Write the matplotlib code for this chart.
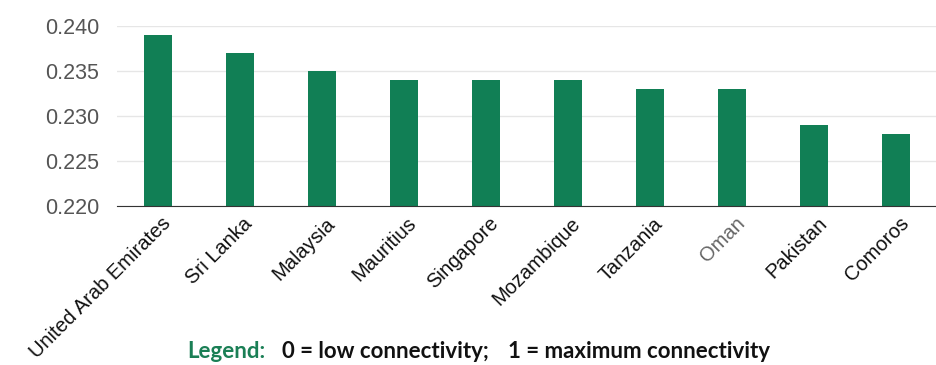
import matplotlib.pyplot as plt
import matplotlib.transforms as mtransforms
from matplotlib import rcParams

rcParams['font.family'] = ['Liberation Sans', 'DejaVu Sans']

countries = ['United Arab Emirates', 'Sri Lanka', 'Malaysia', 'Mauritius', 'Singapore',
             'Mozambique', 'Tanzania', 'Oman', 'Pakistan', 'Comoros']
scores = [0.239, 0.237, 0.235, 0.234, 0.234, 0.234, 0.233, 0.233, 0.229, 0.228]
yticks = [0.220, 0.225, 0.230, 0.235, 0.240]

bar_color = '#117f55'
label_colors = ['#111111'] * len(countries)
label_colors[countries.index('Oman')] = '#666666'

fig = plt.figure(figsize=(9.37, 3.65), dpi=100)
ax = fig.add_axes([117 / 937, 1 - 206 / 365, 1 - 117 / 937, 180 / 365])

x = range(len(countries))
ax.bar(x, scores, width=0.33, color=bar_color, zorder=3)
ax.set_xlim(-0.5, len(countries) - 0.5)
ax.set_ylim(0.220, 0.240)
ax.set_yticks(yticks)
ax.set_yticklabels([f'{v:.3f}' for v in yticks])
ax.grid(axis='y', color='#e6e6e6', linewidth=1, zorder=0)
ax.tick_params(axis='y', length=0, pad=13, labelsize=15.5, labelcolor='#555555')
ax.tick_params(axis='x', length=0)
for s in ['top', 'right', 'left']:
    ax.spines[s].set_visible(False)
ax.spines['bottom'].set_color('#333333')
ax.spines['bottom'].set_zorder(4)

ax.set_xticks(list(x))
ax.set_xticklabels(countries, rotation=45, ha='right', rotation_mode='anchor', fontsize=14.5)
for lbl, c in zip(ax.get_xticklabels(), label_colors):
    lbl.set_color(c)
# nudge labels so they end just right of the bar centre
offset = mtransforms.ScaledTranslation(3 / 100, -3 / 100, fig.dpi_scale_trans)
for lbl in ax.get_xticklabels():
    lbl.set_transform(lbl.get_transform() + offset)

leg_font = dict(fontsize=16, fontweight='bold', family=['Lato', 'DejaVu Sans'], va='center', ha='left')
ly = 1 - 352 / 365
fig.text(187 / 937, ly, 'Legend:', color='#1a7f55', **leg_font)
fig.text(282 / 937, ly, '0 = low connectivity;', color='#111111', **leg_font)
fig.text(508 / 937, ly, '1 = maximum connectivity', color='#111111', **leg_font)

fig.savefig('out.png', dpi=100)
